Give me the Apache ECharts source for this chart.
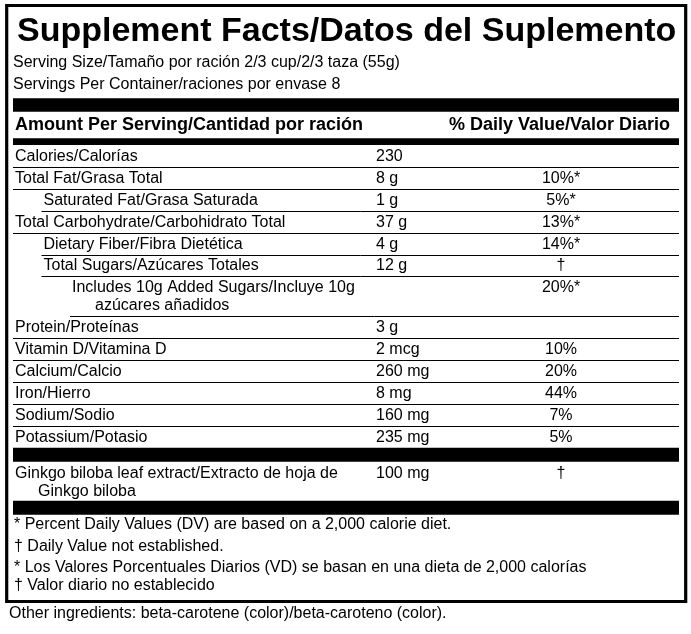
<!DOCTYPE html>
<html>
<head>
<meta charset="UTF-8">
<title>Supplement Facts</title>
<script src="https://cdn.jsdelivr.net/npm/echarts@6/dist/echarts.min.js"></script>
<style>
  html, body { margin: 0; padding: 0; background: #fff; }
  #label { width: 691px; height: 634px; }
</style>
</head>
<body>
<div id="label"></div>
<script type="text/javascript">
// label texts and values
var title = 'Supplement Facts/Datos del Suplemento';
var servingInfo = ['Serving Size/Tamaño por ración 2/3 cup/2/3 taza (55g)', 'Servings Per Container/raciones por envase 8'];
var headers = ['Amount Per Serving/Cantidad por ración', '% Daily Value/Valor Diario'];

var nutrients = ['Calories/Calorías', 'Total Fat/Grasa Total', 'Saturated Fat/Grasa Saturada',
  'Total Carbohydrate/Carbohidrato Total', 'Dietary Fiber/Fibra Dietética', 'Total Sugars/Azúcares Totales',
  'Includes 10g Added Sugars/Incluye 10g\nazúcares añadidos', 'Protein/Proteínas', 'Vitamin D/Vitamina D',
  'Calcium/Calcio', 'Iron/Hierro', 'Sodium/Sodio', 'Potassium/Potasio'];
var amounts = ['230', '8 g', '1 g', '37 g', '4 g', '12 g', '', '3 g', '2 mcg', '260 mg', '8 mg', '160 mg', '235 mg'];
var dailyValues = ['', '10%*', '5%*', '13%*', '14%*', '†', '20%*', '', '10%', '20%', '44%', '7%', '5%'];
var indentLevels = [0, 0, 1, 0, 1, 1, 2, 0, 0, 0, 0, 0, 0];

var others = ['Ginkgo biloba leaf extract/Extracto de hoja de\nGinkgo biloba'];
var otherAmounts = ['100 mg'];
var otherDailyValues = ['†'];

var footnotes = ['* Percent Daily Values (DV) are based on a 2,000 calorie diet.', '† Daily Value not established.',
  '* Los Valores Porcentuales Diarios (VD) se basan en una dieta de 2,000 calorías', '† Valor diario no establecido'];
var ingredients = 'Other ingredients: beta-carotene (color)/beta-caroteno (color).';

// layout
var FONT = '"Liberation Sans", Arial, sans-serif';
var BODY = '16px ' + FONT;
var TABLE_W = 666;
var COL_AMOUNT = 363, COL_DV = 548, INDENT = 28.5, HANG = 23;

var blocks = [];
function push(b) { blocks.push(b); }
push({ kind: 'bar', h: 13.4 });
push({ kind: 'head', h: 26.6 });
push({ kind: 'bar', h: 6.7 });
nutrients.forEach(function (n, i) {
  var lines = n.split('\n');
  push({ kind: 'row', lines: lines, amount: amounts[i], dv: dailyValues[i], indent: indentLevels[i],
    h: lines.length > 1 ? 40 : 21.9, rule: i < nutrients.length - 1 });
});
push({ kind: 'bar', h: 14 });
others.forEach(function (n, i) {
  var lines = n.split('\n');
  push({ kind: 'row', lines: lines, amount: otherAmounts[i], dv: otherDailyValues[i], indent: 0,
    h: lines.length > 1 ? 39 : 21.9, rule: false });
});
push({ kind: 'bar', h: 14 });

var acc = 0;
var blockData = blocks.map(function (b, i) {
  var top = acc;
  acc += b.h;
  return [i, top, acc];
});
var tableH = acc;

function renderBlock(params, api) {
  var b = blocks[api.value(0)];
  var p0 = api.coord([0, api.value(1)]);
  var p1 = api.coord([TABLE_W, api.value(2)]);
  var left = p0[0], top = p0[1], right = p1[0], bottom = p1[1];
  var kids = [];
  if (b.kind === 'bar') {
    kids.push({ type: 'rect', shape: { x: left, y: top, width: right - left, height: bottom - top }, style: { fill: '#000' } });
  } else if (b.kind === 'head') {
    var cy = (top + bottom) / 2 + 0.5;
    kids.push({ type: 'text', x: left + 2, y: cy, style: { text: headers[0], fill: '#000', font: 'bold 18px ' + FONT, align: 'left', verticalAlign: 'middle' } });
    kids.push({ type: 'text', x: left + 657, y: cy, style: { text: headers[1], fill: '#000', font: 'bold 18px ' + FONT, align: 'right', verticalAlign: 'middle' } });
  } else {
    var x0 = left + 2 + b.indent * INDENT;
    b.lines.forEach(function (ln, k) {
      kids.push({ type: 'text', x: x0 + (k > 0 ? HANG : 0), y: top + 11.5 + k * 18,
        style: { text: ln, fill: '#000', font: BODY, align: 'left', verticalAlign: 'middle' } });
    });
    if (b.amount) {
      kids.push({ type: 'text', x: left + COL_AMOUNT, y: top + 11.5, style: { text: b.amount, fill: '#000', font: BODY, align: 'left', verticalAlign: 'middle' } });
    }
    if (b.dv) {
      kids.push({ type: 'text', x: left + COL_DV, y: top + 11.5, style: { text: b.dv, fill: '#000', font: BODY, align: 'center', verticalAlign: 'middle' } });
    }
    if (b.rule) {
      kids.push({ type: 'line', shape: { x1: left + b.indent * INDENT, y1: Math.round(bottom) + 0.5, x2: right, y2: Math.round(bottom) + 0.5 },
        style: { stroke: '#000', lineWidth: 1 } });
    }
  }
  return { type: 'group', children: kids };
}

var chart = echarts.init(document.getElementById('label'), null, { renderer: 'canvas' });

var graphics = [
  { type: 'rect', shape: { x: 6.7, y: 5.5, width: 679, height: 596 }, style: { fill: 'none', stroke: '#000', lineWidth: 3.2 } },
  { type: 'text', x: 17, y: 32, style: { text: title, fill: '#000', font: 'bold 34px ' + FONT, verticalAlign: 'middle' } }
];
servingInfo.forEach(function (s, i) {
  graphics.push({ type: 'text', x: 13, y: 63 + i * 21.5, style: { text: s, fill: '#000', font: BODY, verticalAlign: 'middle' } });
});
var footY = [524.5, 546.5, 567.5, 585.5];
footnotes.forEach(function (f, i) {
  graphics.push({ type: 'text', x: 14, y: footY[i], style: { text: f, fill: '#000', font: BODY, verticalAlign: 'middle' } });
});
graphics.push({ type: 'text', x: 9, y: 613.5, style: { text: ingredients, fill: '#000', font: BODY, verticalAlign: 'middle' } });

chart.setOption({
  animation: false,
  backgroundColor: '#fff',
  grid: { left: 13, top: 98.3, width: TABLE_W, height: tableH },
  xAxis: { type: 'value', min: 0, max: TABLE_W, show: false },
  yAxis: { type: 'value', min: 0, max: tableH, inverse: true, show: false },
  graphic: graphics,
  series: [{
    type: 'custom',
    renderItem: renderBlock,
    encode: { x: 0, y: [1, 2] },
    data: blockData,
    silent: true
  }]
});
</script>
</body>
</html>
